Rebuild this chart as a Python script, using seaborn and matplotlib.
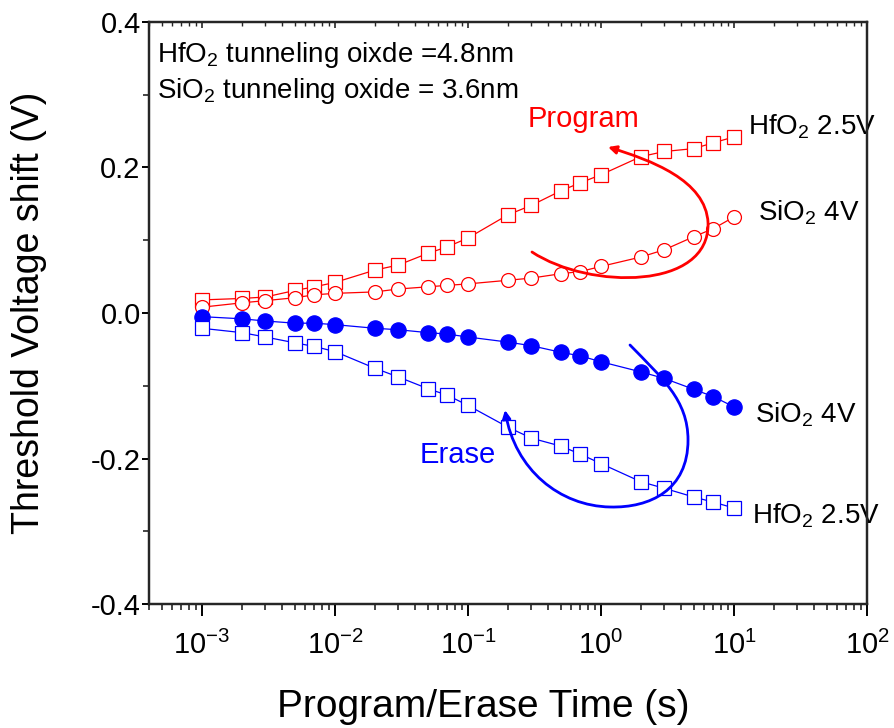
import matplotlib
matplotlib.use("Agg")
import matplotlib.pyplot as plt
from matplotlib import font_manager
from matplotlib.path import Path
from matplotlib.patches import FancyArrowPatch
from matplotlib.ticker import FixedLocator, FixedFormatter, LogLocator, MultipleLocator, NullFormatter, FormatStrFormatter
import pandas as pd
import seaborn as sns

# Program / erase time (s)
time_s = [1e-3, 2e-3, 3e-3, 5e-3, 7e-3, 1e-2, 2e-2, 3e-2, 5e-2, 7e-2,
          0.1, 0.2, 0.3, 0.5, 0.7, 1, 2, 3, 5, 7, 10]

# Threshold voltage shift (V)
hfo2_program = [0.018, 0.020, 0.022, 0.031, 0.036, 0.042, 0.059, 0.066, 0.082, 0.091, 0.103,
                0.135, 0.148, 0.168, 0.179, 0.190, 0.215, 0.222, 0.226, 0.234, 0.242]
sio2_program = [0.008, 0.014, 0.017, 0.021, 0.025, 0.027, 0.029, 0.033, 0.036, 0.038, 0.040,
                0.045, 0.048, 0.054, 0.057, 0.064, 0.077, 0.087, 0.105, 0.116, 0.132]
sio2_erase = [-0.005, -0.008, -0.011, -0.014, -0.014, -0.016, -0.021, -0.023, -0.027, -0.029, -0.033,
              -0.040, -0.045, -0.054, -0.059, -0.067, -0.081, -0.090, -0.105, -0.115, -0.129]
hfo2_erase = [-0.021, -0.027, -0.033, -0.041, -0.046, -0.053, -0.076, -0.088, -0.104, -0.113, -0.127,
              -0.157, -0.172, -0.183, -0.194, -0.207, -0.232, -0.241, -0.253, -0.260, -0.268]

x_ticks = [1e-3, 1e-2, 1e-1, 1e0, 1e1, 1e2]
x_tick_labels = [r"$\mathdefault{10^{-3}}$", r"$\mathdefault{10^{-2}}$", r"$\mathdefault{10^{-1}}$",
                 r"$\mathdefault{10^{0}}$", r"$\mathdefault{10^{1}}$", r"$\mathdefault{10^{2}}$"]
y_ticks = [-0.4, -0.2, 0.0, 0.2, 0.4]

RED = "#ff0000"
BLUE = "#0000ff"

sns.set_theme(style="ticks")
plt.rcParams["font.family"] = ["Liberation Sans", "DejaVu Sans"]
plt.rcParams["mathtext.fontset"] = "custom"
plt.rcParams["mathtext.rm"] = "Liberation Sans"
plt.rcParams["mathtext.it"] = "Liberation Sans:italic"
plt.rcParams["mathtext.bf"] = "Liberation Sans:bold"
plt.rcParams["axes.unicode_minus"] = False

# condensed face for the decade labels when it is available
_names = {f.name for f in font_manager.fontManager.ttflist}
narrow_family = "Liberation Sans Narrow" if "Liberation Sans Narrow" in _names else "Liberation Sans"

frames = []
for name, vals in [("hfo2_program", hfo2_program), ("sio2_program", sio2_program),
                   ("sio2_erase", sio2_erase), ("hfo2_erase", hfo2_erase)]:
    frames.append(pd.DataFrame({"time": time_s, "shift": vals, "series": name}))
df = pd.concat(frames, ignore_index=True)

fig = plt.figure(figsize=(8.94, 7.28), dpi=100)
ax = fig.add_axes([0.1667, 0.1703, 0.8031, 0.7995])
ax.set_xscale("log")

styles = {
    "hfo2_program": dict(color=RED, marker="s", markersize=9.5, markerfacecolor="white", markeredgecolor=RED),
    "sio2_program": dict(color=RED, marker="o", markersize=10, markerfacecolor="white", markeredgecolor=RED),
    "sio2_erase": dict(color=BLUE, marker="o", markersize=11, markerfacecolor=BLUE, markeredgecolor=BLUE),
    "hfo2_erase": dict(color=BLUE, marker="s", markersize=9.5, markerfacecolor="white", markeredgecolor=BLUE),
}
for name, st in styles.items():
    sns.lineplot(data=df[df["series"] == name], x="time", y="shift", ax=ax,
                 estimator=None, sort=False, legend=False,
                 linewidth=0.9, markeredgewidth=0.9, **st)

ax.set_xlim(4e-4, 100)
ax.set_ylim(-0.4, 0.4)

# axes frame
for sp in ax.spines.values():
    sp.set_linewidth(1.6)
    sp.set_color("black")

ax.xaxis.set_major_locator(FixedLocator(x_ticks))
ax.xaxis.set_major_formatter(FixedFormatter(x_tick_labels))
ax.xaxis.set_minor_locator(LogLocator(base=10, subs=range(2, 10), numticks=20))
ax.xaxis.set_minor_formatter(NullFormatter())
ax.yaxis.set_major_locator(FixedLocator(y_ticks))
ax.yaxis.set_major_formatter(FormatStrFormatter("%.1f"))
ax.yaxis.set_minor_locator(MultipleLocator(0.1))

ax.tick_params(axis="x", which="major", direction="out", length=8.5, width=1.4, pad=11,
               labelsize=21, colors="black")
ax.tick_params(axis="x", which="minor", direction="out", length=4.5, width=1.2)
ax.tick_params(axis="y", which="major", direction="out", length=5, width=1.4, pad=1,
               labelsize=21, colors="black")
ax.tick_params(axis="y", which="minor", direction="out", length=4, width=1.2)
for lab in ax.get_xticklabels():
    lab.set_fontfamily(narrow_family)

# inward ticks along the top edge
top = ax.twiny()
top.set_xscale("log")
top.set_xlim(ax.get_xlim())
top.xaxis.set_major_locator(FixedLocator(x_ticks))
top.xaxis.set_minor_locator(LogLocator(base=10, subs=range(2, 10), numticks=20))
top.tick_params(axis="x", which="major", direction="in", length=4, width=1.2, labeltop=False)
top.tick_params(axis="x", which="minor", direction="in", length=3, width=1.0)
for sp in top.spines.values():
    sp.set_linewidth(1.6)

ax.set_xlabel("Program/Erase Time (s)", fontsize=28, color="black")
ax.set_ylabel("Threshold Voltage shift (V)", fontsize=27, color="black")
ax.xaxis.set_label_coords(0.465, -0.146)
ax.yaxis.set_label_coords(-0.142, 0.5)

# header notes
ax.text(0.011, 0.931, "HfO$_2$ tunneling oixde =4.8nm", transform=ax.transAxes,
        fontsize=20, va="baseline", ha="left", color="black")
ax.text(0.011, 0.869, "SiO$_2$ tunneling oxide = 3.6nm", transform=ax.transAxes,
        fontsize=20, va="baseline", ha="left", color="black")

# series labels
ax.text(12.7, 0.246, "HfO$_2$ 2.5V", fontsize=20, va="baseline", ha="left", color="black")
ax.text(15.1, 0.1265, "SiO$_2$ 4V", fontsize=20, va="baseline", ha="left", color="black")
ax.text(14.4, -0.150, "SiO$_2$ 4V", fontsize=20, va="baseline", ha="left", color="black")
ax.text(13.6, -0.289, "HfO$_2$ 2.5V", fontsize=20, va="baseline", ha="left", color="black")
ax.text(0.283, 0.256, "Program", fontsize=21, va="baseline", ha="left", color=RED)
ax.text(0.0436, -0.206, "Erase", fontsize=21, va="baseline", ha="left", color=BLUE)

# curved arrows (axes-fraction control points)
C4 = Path.CURVE4
prog_path = Path(
    [(0.5334, 0.6048), (0.6142, 0.5395), (0.7813, 0.5395), (0.7786, 0.6546),
     (0.7758, 0.7285), (0.6978, 0.7629), (0.6393, 0.7852)],
    [Path.MOVETO, C4, C4, C4, C4, C4, C4])
erase_path = Path(
    [(0.6699, 0.4450), (0.7145, 0.3883), (0.7507, 0.3505), (0.7507, 0.2818),
     (0.7507, 0.1959), (0.6978, 0.1649), (0.6421, 0.1667),
     (0.5724, 0.1684), (0.5097, 0.2302), (0.4958, 0.3333)],
    [Path.MOVETO, C4, C4, C4, C4, C4, C4, C4, C4, C4])
for p, col in [(prog_path, RED), (erase_path, BLUE)]:
    arr = FancyArrowPatch(path=p, arrowstyle="-|>", mutation_scale=12, lw=2.0,
                          color=col, transform=ax.transAxes, zorder=5)
    ax.add_patch(arr)

fig.savefig("out.png", dpi=100, facecolor="white")
